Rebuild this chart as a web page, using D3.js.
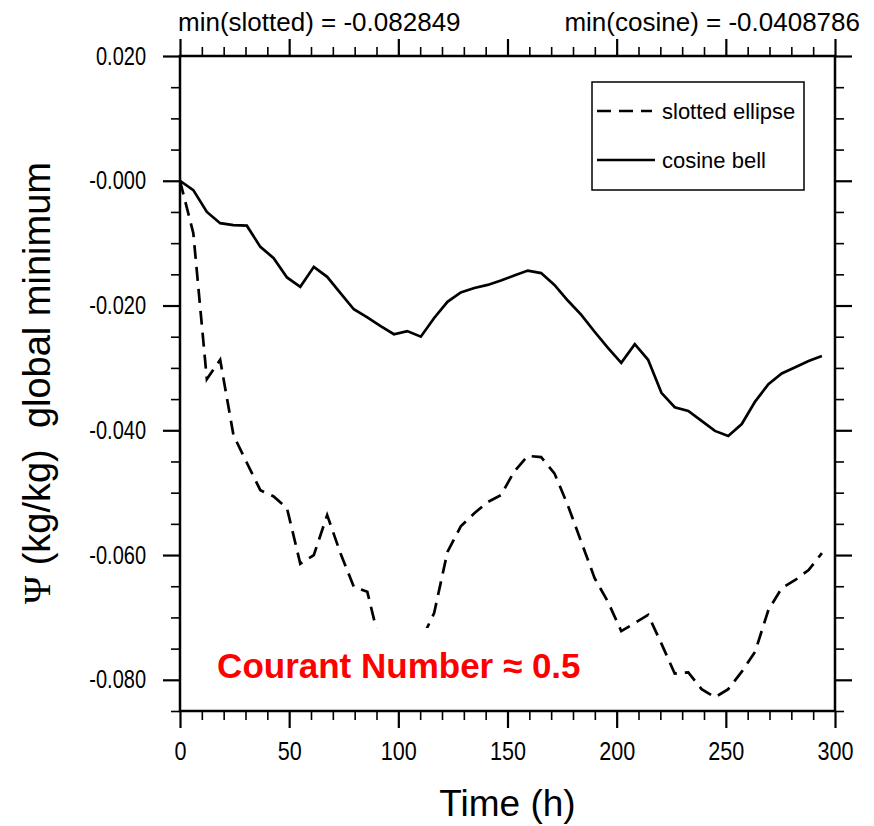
<!DOCTYPE html>
<html>
<head>
<meta charset="utf-8">
<script src="https://cdn.jsdelivr.net/npm/d3@7"></script>
<style>
  body { margin: 0; background: #fff; }
  svg text { font-family: "Liberation Sans", Helvetica, Arial, sans-serif; }
</style>
</head>
<body>
<div id="vis"></div>
<script>
// time axis (hours)
var times = [0, 6.1, 12.3, 18.4, 24.5, 30.6, 36.8, 42.9, 49, 55.1, 61.3, 67.4, 73.5, 79.6, 85.8,
  91.9, 98, 104.1, 110.3, 116.4, 122.5, 128.6, 134.8, 140.9, 147, 153.1, 159.3, 165.4, 171.5,
  177.6, 183.8, 189.9, 196, 202.1, 208.3, 214.4, 220.5, 226.6, 232.8, 238.9, 245, 251.1, 257.3,
  263.4, 269.5, 275.6, 281.8, 287.9, 294];
// slotted ellipse global minimum
var slotted = [0.0, -0.0084, -0.0318, -0.0287, -0.0408, -0.0452, -0.0496, -0.0506, -0.0525,
  -0.0614, -0.0600, -0.0536, -0.0597, -0.0651, -0.0659, -0.0747, -0.0780, -0.0770, -0.0738,
  -0.0693, -0.0595, -0.0554, -0.0533, -0.0515, -0.0504, -0.0466, -0.0441, -0.0443, -0.0469,
  -0.0520, -0.0579, -0.0637, -0.0675, -0.0722, -0.0709, -0.0696, -0.0742, -0.0790, -0.0788,
  -0.0815, -0.0828, -0.0815, -0.0787, -0.0755, -0.0688, -0.0653, -0.0640, -0.0624, -0.0597];
// cosine bell global minimum
var cosine = [0.0, -0.0015, -0.0050, -0.0068, -0.0071, -0.0072, -0.0106, -0.0124, -0.0155,
  -0.0170, -0.0138, -0.0154, -0.0180, -0.0206, -0.0219, -0.0233, -0.0246, -0.0241, -0.0250,
  -0.0220, -0.0194, -0.0179, -0.0172, -0.0167, -0.0160, -0.0152, -0.0144, -0.0148, -0.0167,
  -0.0192, -0.0215, -0.0242, -0.0268, -0.0292, -0.0262, -0.0287, -0.0340, -0.0363, -0.0369,
  -0.0385, -0.0401, -0.0409, -0.0390, -0.0354, -0.0326, -0.0309, -0.0299, -0.0289, -0.0281];

var xTicks = [0, 50, 100, 150, 200, 250, 300];
var xMinor = [10, 20, 30, 40, 60, 70, 80, 90, 110, 120, 130, 140, 160, 170, 180, 190,
  210, 220, 230, 240, 260, 270, 280, 290];
var yTicks = [0.02, 0.0, -0.02, -0.04, -0.06, -0.08];
var yTickLabels = ["0.020", "-0.000", "-0.020", "-0.040", "-0.060", "-0.080"];
var yMinor = [0.015, 0.01, 0.005, -0.005, -0.01, -0.015, -0.025, -0.03, -0.035,
  -0.045, -0.05, -0.055, -0.065, -0.07, -0.075, -0.085];
var seriesNames = ["slotted ellipse", "cosine bell"];
var topLeftLabel = "min(slotted) = -0.082849";
var topRightLabel = "min(cosine) = -0.0408786";

var width = 874, height = 826;
var margin = {top: 56, right: 39, bottom: 115, left: 180};
var pw = width - margin.left - margin.right;
var ph = height - margin.top - margin.bottom;

var svg = d3.select("#vis").append("svg")
  .attr("width", width).attr("height", height);
var g = svg.append("g").attr("transform", "translate(" + margin.left + "," + margin.top + ")");

var x = d3.scaleLinear().domain([0, 300]).range([0, pw]);
var y = d3.scaleLinear().domain([-0.085, 0.020]).range([ph, 0]);

// squeeze text horizontally (the original font is a bit condensed)
function squeeze(sel, f) {
  sel.each(function() {
    var len = this.getComputedTextLength();
    d3.select(this).attr("textLength", len * f).attr("lengthAdjust", "spacingAndGlyphs");
  });
}

// draw a set of ticks, no labels unless given
function drawAxis(axisFn, scale, vals, size, transform, labels, pad) {
  var a = axisFn(scale).tickValues(vals).tickSize(size).tickSizeOuter(0);
  if (labels) {
    a.tickFormat(function(d, i) { return labels[i]; }).tickPadding(pad);
  } else {
    a.tickFormat("");
  }
  var ag = g.append("g").attr("transform", transform).call(a);
  ag.select(".domain").remove();
  ag.selectAll("line").attr("stroke", "#000").attr("stroke-width", size > 10 ? 2.2 : 1.6);
  return ag;
}

// bottom
var bx = drawAxis(d3.axisBottom, x, xTicks, 17, "translate(0," + ph + ")", xTicks.map(String), 14);
bx.selectAll("text").style("font-size", "26px").attr("fill", "#000").call(squeeze, 0.83);
drawAxis(d3.axisBottom, x, xMinor, 9, "translate(0," + ph + ")");
// top
drawAxis(d3.axisTop, x, xTicks, 17, "translate(0,0)");
drawAxis(d3.axisTop, x, xMinor, 9, "translate(0,0)");
// left
var ly = drawAxis(d3.axisLeft, y, yTicks, 17, "translate(0,0)", yTickLabels, 17);
ly.selectAll("text").style("font-size", "25px").attr("fill", "#000").call(squeeze, 0.8);
drawAxis(d3.axisLeft, y, yMinor, 9, "translate(0,0)");
// right
drawAxis(d3.axisRight, y, yTicks, 17, "translate(" + pw + ",0)");
drawAxis(d3.axisRight, y, yMinor, 9, "translate(" + pw + ",0)");

// frame
g.append("rect").attr("width", pw).attr("height", ph)
  .attr("fill", "none").attr("stroke", "#000").attr("stroke-width", 2.5);

// lines
var line = d3.line().x(function(d) { return x(d[0]); }).y(function(d) { return y(d[1]); });
g.append("path").datum(d3.zip(times, slotted)).attr("d", line)
  .attr("fill", "none").attr("stroke", "#000").attr("stroke-width", 2.7)
  .attr("stroke-dasharray", "14,8");
g.append("path").datum(d3.zip(times, cosine)).attr("d", line)
  .attr("fill", "none").attr("stroke", "#000").attr("stroke-width", 2.7);

// courant label with white box behind it
g.append("rect").attr("x", x(9)).attr("y", y(-0.0717))
  .attr("width", x(190) - x(9)).attr("height", y(-0.0816) - y(-0.0717))
  .attr("fill", "#fff");
g.append("text").attr("x", x(17)).attr("y", 678 - margin.top)
  .style("font-size", "35px").style("font-weight", "bold").attr("fill", "#ff0000")
  .text("Courant Number \u2248 0.5");

// legend
var lg = svg.append("g");
lg.append("rect").attr("x", 592).attr("y", 82).attr("width", 212).attr("height", 108)
  .attr("fill", "#fff").attr("stroke", "#000").attr("stroke-width", 1.5);
lg.append("line").attr("x1", 597).attr("x2", 652).attr("y1", 111).attr("y2", 111)
  .attr("stroke", "#000").attr("stroke-width", 2.7).attr("stroke-dasharray", "14,8");
lg.append("line").attr("x1", 597).attr("x2", 655).attr("y1", 160).attr("y2", 160)
  .attr("stroke", "#000").attr("stroke-width", 2.7);
lg.append("text").attr("x", 662).attr("y", 119).style("font-size", "22px").text(seriesNames[0]);
lg.append("text").attr("x", 662).attr("y", 168).style("font-size", "22px").text(seriesNames[1]);

// top strings
svg.append("text").attr("x", 178).attr("y", 31).style("font-size", "26px").text(topLeftLabel);
svg.append("text").attr("x", 860).attr("y", 31).attr("text-anchor", "end")
  .style("font-size", "26px").text(topRightLabel);

// axis titles
svg.append("text").attr("x", margin.left + pw / 2).attr("y", 816).attr("text-anchor", "middle")
  .style("font-size", "37px").text("Time (h)");
var yt = svg.append("text").attr("transform", "translate(50,383) rotate(-90)")
  .attr("text-anchor", "middle").style("font-size", "38px").style("white-space", "pre");
yt.append("tspan").style("font-family", "'Liberation Serif', 'DejaVu Serif', serif").text("\u03a8");
yt.append("tspan").text(" (kg/kg)  global minimum");
</script>
</body>
</html>
